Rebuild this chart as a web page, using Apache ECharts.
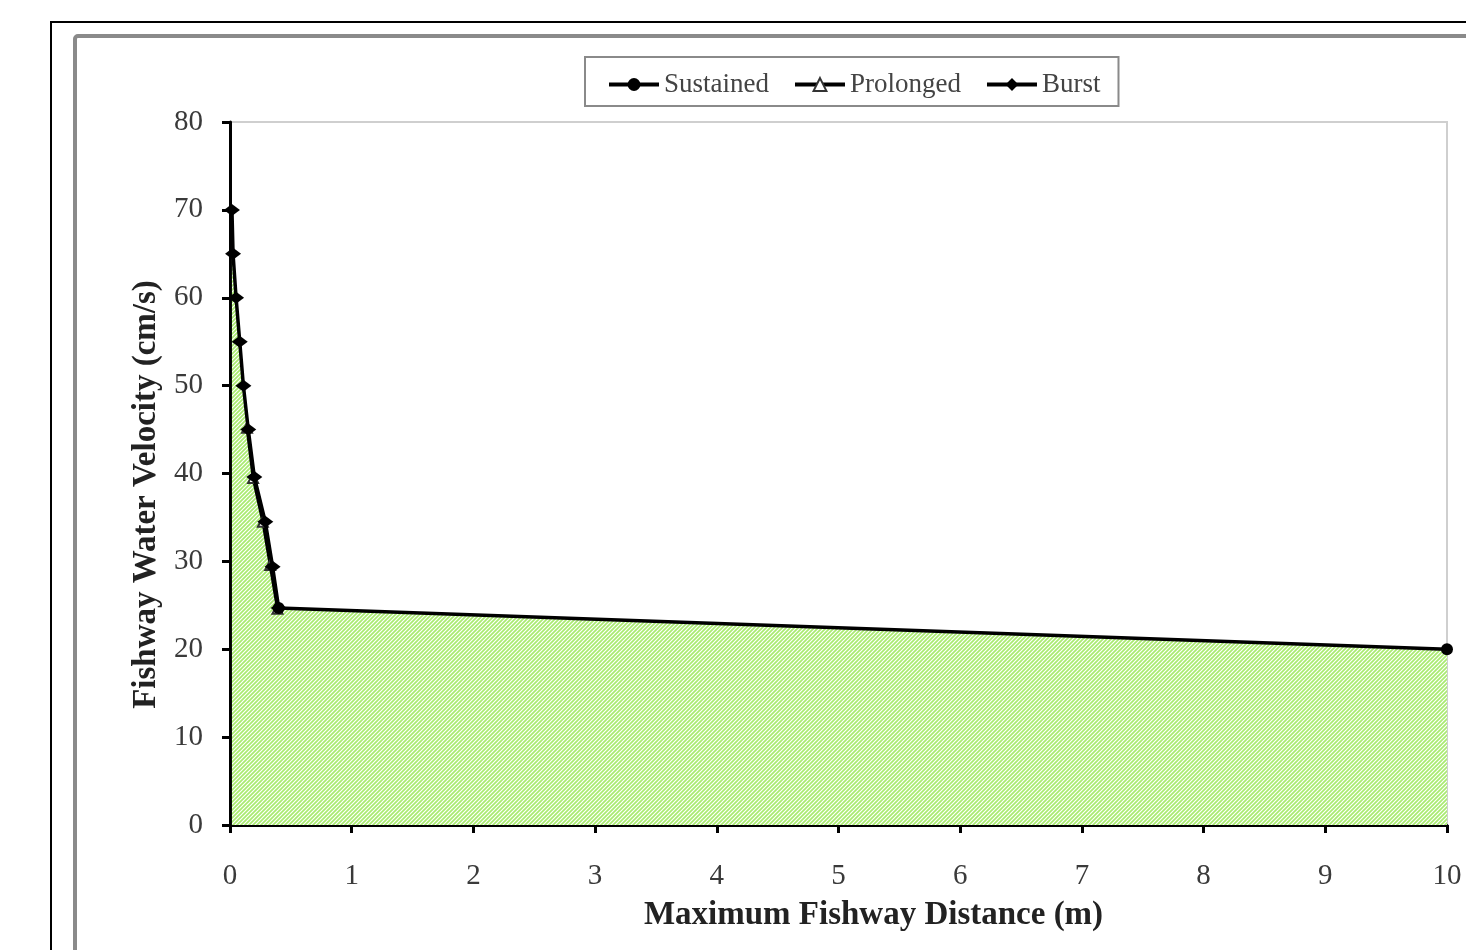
<!DOCTYPE html>
<html>
<head>
<meta charset="utf-8">
<script src="https://cdn.jsdelivr.net/npm/echarts@6/dist/echarts.min.js"></script>
<style>
html,body{margin:0;padding:0;background:#fff;}
#chart{width:1466px;height:950px;}
</style>
</head>
<body>
<div id="chart"></div>
<script>
// ---- data ----
const seriesNames = ['Sustained', 'Prolonged', 'Burst'];
const sustained = [[0.40, 24.7], [10, 20]];
const prolonged = [[0.14, 45.2], [0.19, 39.5], [0.27, 34.5], [0.33, 29.6], [0.39, 24.6]];
const burst = [[0.016, 70], [0.025, 65], [0.05, 60], [0.08, 55], [0.11, 50], [0.15, 45], [0.2, 39.6], [0.29, 34.5], [0.35, 29.4], [0.40, 24.7]];
const xTicks = [0, 1, 2, 3, 4, 5, 6, 7, 8, 9, 10];
const yTicks = [0, 10, 20, 30, 40, 50, 60, 70, 80];

// envelope = upper boundary (burst curve then sustained)
const envelope = burst.concat(sustained.slice(1));

// hatch pattern
function makePattern() {
  const c = document.createElement('canvas');
  c.width = 4; c.height = 4;
  const g = c.getContext('2d');
  g.fillStyle = '#a9eb70';
  g.fillRect(0, 0, 4, 4);
  g.strokeStyle = '#ffffff';
  g.lineWidth = 1.15;
  g.beginPath();
  g.moveTo(0, 4); g.lineTo(4, 0);
  g.moveTo(-1, 1); g.lineTo(1, -1);
  g.moveTo(3, 5); g.lineTo(5, 3);
  g.stroke();
  return c;
}

const chart = echarts.init(document.getElementById('chart'), null, {renderer: 'canvas'});
const serif = '"Liberation Serif", "DejaVu Serif", serif';

chart.setOption({
  backgroundColor: '#ffffff',
  animation: false,
  graphic: [
    {type: 'rect', z: 0, shape: {x: 51, y: 22, width: 1500, height: 1000}, style: {fill: null, stroke: '#000', lineWidth: 2}},
    {type: 'rect', z: 0, shape: {x: 75, y: 36, width: 1500, height: 1000, r: 3}, style: {fill: null, stroke: '#8a8a8a', lineWidth: 4}}
  ],
  legend: {
    left: 585, top: 57,
    data: seriesNames.map(n => ({name: n, lineStyle: {width: 4, color: '#000'}})),
    orient: 'horizontal',
    itemWidth: 50, itemHeight: 16, itemGap: 24,
    padding: [14, 18, 8, 22],
    borderColor: '#8a8a8a', borderWidth: 2,
    textStyle: {fontFamily: serif, fontSize: 27, color: '#444'}
  },
  grid: {
    left: 230, right: 19, top: 122, bottom: 125,
    show: true, borderColor: '#cfcfcf', borderWidth: 2, backgroundColor: 'transparent'
  },
  xAxis: {
    type: 'value', min: 0, max: 10, interval: 1,
    name: 'Maximum Fishway Distance (m)', nameLocation: 'middle', nameGap: 74,
    nameTextStyle: {fontFamily: serif, fontSize: 33, fontWeight: 'bold', color: '#222', padding: [0, 0, 0, 70]},
    axisLine: {show: true, lineStyle: {color: '#000', width: 3}},
    axisTick: {show: true, length: 8, lineStyle: {color: '#000', width: 3}},
    axisLabel: {margin: 37, fontFamily: serif, fontSize: 29, color: '#3a3a3a',
      formatter: v => xTicks.includes(v) ? String(v) : ''},
    splitLine: {show: false}
  },
  yAxis: {
    type: 'value', min: 0, max: 80, interval: 10,
    name: 'Fishway Water Velocity (cm/s)', nameLocation: 'middle', nameGap: 66, nameRotate: 90,
    nameTextStyle: {fontFamily: serif, fontSize: 33, fontWeight: 'bold', color: '#222', padding: [0, 42, 0, 0]},
    axisLine: {show: true, lineStyle: {color: '#000', width: 3}},
    axisTick: {show: true, length: 8, lineStyle: {color: '#000', width: 3}},
    axisLabel: {margin: 27, fontFamily: serif, fontSize: 29, color: '#3a3a3a',
      formatter: v => yTicks.includes(v) ? String(v) : ''},
    splitLine: {show: false}
  },
  series: [
    {
      name: 'envelope', type: 'line', data: envelope, z: 1,
      symbol: 'none', lineStyle: {width: 0, opacity: 0},
      areaStyle: {color: {image: makePattern(), repeat: 'repeat'}, opacity: 1},
      silent: true, legendHoverLink: false
    },
    {
      name: 'Sustained', type: 'line', data: sustained, z: 4,
      symbol: 'circle', symbolSize: 12,
      itemStyle: {color: '#000'}, lineStyle: {color: '#000', width: 3.5}
    },
    {
      name: 'Prolonged', type: 'line', data: prolonged, z: 3,
      symbol: 'emptyTriangle', symbolSize: 10,
      itemStyle: {color: '#333', borderColor: '#333', borderWidth: 1.5},
      lineStyle: {color: '#000', width: 3}
    },
    {
      name: 'Burst', type: 'line', data: burst, z: 5,
      symbol: 'diamond', symbolSize: [16, 12],
      itemStyle: {color: '#000'}, lineStyle: {color: '#000', width: 3.5}
    }
  ]
});
</script>
</body>
</html>
